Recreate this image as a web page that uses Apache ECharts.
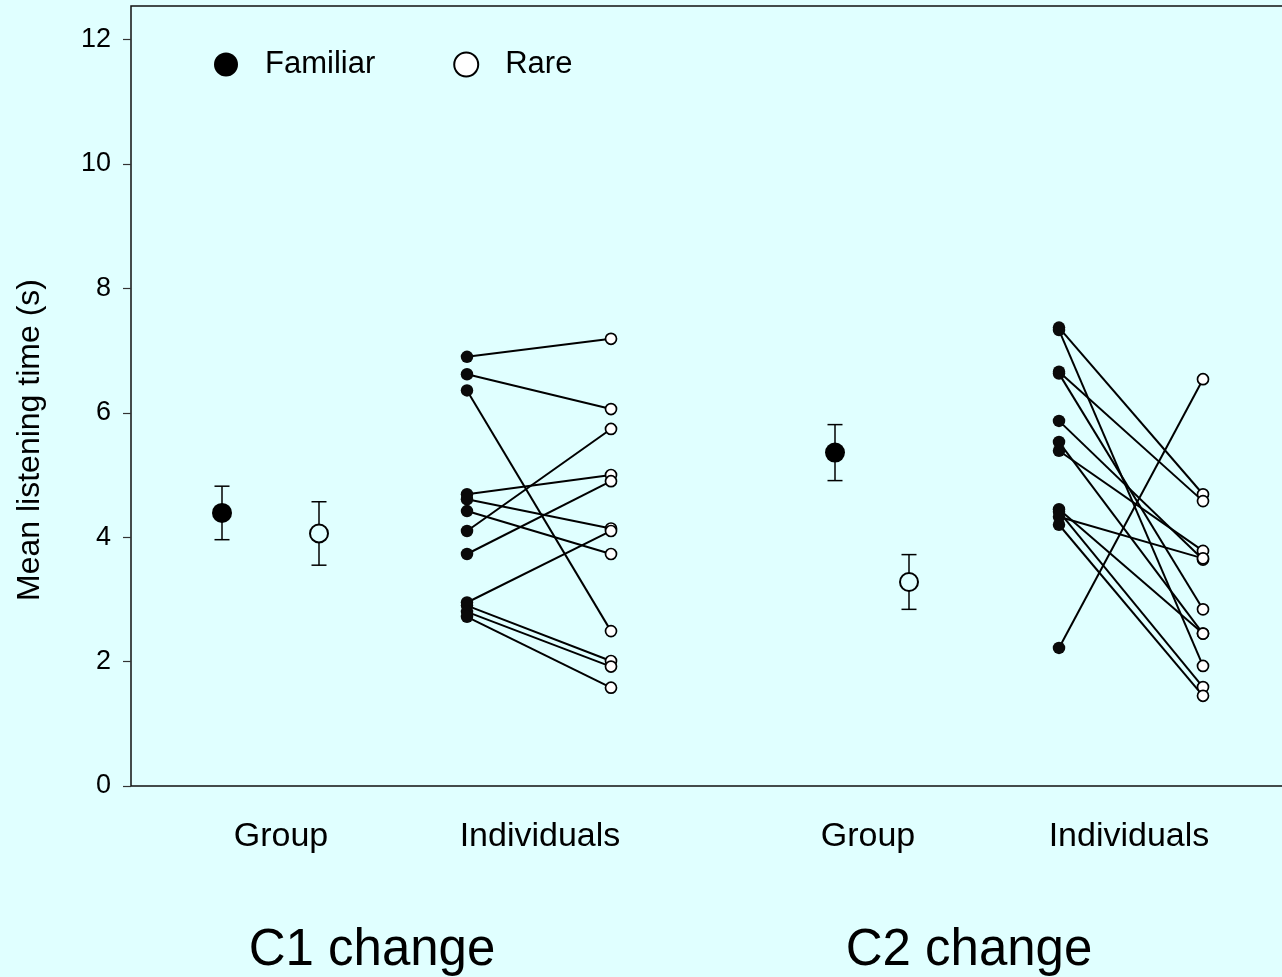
<!DOCTYPE html>
<html>
<head>
<meta charset="utf-8">
<script src="https://cdn.jsdelivr.net/npm/echarts@6/dist/echarts.min.js"></script>
<style>
html,body{margin:0;padding:0;background:#e0ffff;}
#chart{width:1282px;height:977px;}
</style>
</head>
<body>
<div id="chart"></div>
<script>
// ---- data ----
const yTicks = [0, 2, 4, 6, 8, 10, 12];
const categoryLabels = ['Group', 'Individuals', 'Group', 'Individuals'];
const changeLabels = ['C1 change', 'C2 change'];
const seriesNames = ['Familiar', 'Rare'];

const groupFamiliarMean = [4.39, 5.36];
const groupFamiliarErr  = [0.43, 0.45];
const groupRareMean     = [4.06, 3.28];
const groupRareErr      = [0.51, 0.44];

const c1Familiar = [6.90, 6.62, 6.36, 4.69, 4.61, 4.42, 4.10, 3.73, 2.95, 2.90, 2.80, 2.72];
const c1Rare     = [7.19, 6.06, 2.49, 5.00, 4.14, 3.73, 5.74, 4.90, 4.10, 2.01, 1.92, 1.58];
const c2Familiar = [7.37, 7.33, 6.66, 6.63, 5.87, 5.53, 5.39, 4.45, 4.41, 4.33, 4.20, 2.22];
const c2Rare     = [4.69, 1.93, 4.58, 2.84, 3.64, 2.45, 3.78, 2.45, 1.59, 3.66, 1.45, 6.54];

// ---- layout (x positions on a 0..12 layout axis) ----
const POS = {
  groupF: [0.91, 7.04],
  groupR: [1.88, 7.78],
  indF: [3.36, 9.28],
  indR: [4.80, 10.72],
  catLabel: [1.50, 4.09, 7.37, 9.98],
  changeLabel: [2.41, 8.38]
};
const FONT = 'Liberation Sans, Arial, Helvetica, sans-serif';
const BG = '#e0ffff';

const groupF = groupFamiliarMean.map((m, i) => [POS.groupF[i], m]);
const groupR = groupRareMean.map((m, i) => [POS.groupR[i], m]);
const errF = groupFamiliarMean.map((m, i) => [POS.groupF[i], m, groupFamiliarErr[i]]);
const errR = groupRareMean.map((m, i) => [POS.groupR[i], m, groupRareErr[i]]);

const pairs = [];
const indFpts = [], indRpts = [];
[[c1Familiar, c1Rare], [c2Familiar, c2Rare]].forEach(([fam, rare], k) => {
  fam.forEach((f, i) => {
    pairs.push([POS.indF[k], f, POS.indR[k], rare[i]]);
    indFpts.push([POS.indF[k], f]);
    indRpts.push([POS.indR[k], rare[i]]);
  });
});

function errRender(params, api) {
  const x = api.value(0), m = api.value(1), e = api.value(2);
  const t = api.coord([x, m + e]);
  const b = api.coord([x, m - e]);
  const hw = 7.5;
  const st = { stroke: '#000', lineWidth: 1.5 };
  return {
    type: 'group',
    children: [
      { type: 'line', shape: { x1: t[0], y1: t[1], x2: b[0], y2: b[1] }, style: st },
      { type: 'line', shape: { x1: t[0] - hw, y1: t[1], x2: t[0] + hw, y2: t[1] }, style: st },
      { type: 'line', shape: { x1: b[0] - hw, y1: b[1], x2: b[0] + hw, y2: b[1] }, style: st }
    ]
  };
}
function pairRender(params, api) {
  const a = api.coord([api.value(0), api.value(1)]);
  const b = api.coord([api.value(2), api.value(3)]);
  return { type: 'line', shape: { x1: a[0], y1: a[1], x2: b[0], y2: b[1] },
           style: { stroke: '#000', lineWidth: 2 } };
}

const chart = echarts.init(document.getElementById('chart'), null, { renderer: 'canvas' });
chart.setOption({
  backgroundColor: BG,
  animation: false,
  textStyle: { fontFamily: FONT },
  grid: {
    left: 131, top: 6, width: 1200, bottom: 191,
    outerBoundsMode: 'none', containLabel: false,
    show: true, borderColor: '#111', borderWidth: 1.5, backgroundColor: 'transparent'
  },
  legend: {
    data: [
      { name: seriesNames[0], icon: 'circle', itemStyle: { color: '#000', borderWidth: 0 } },
      { name: seriesNames[1], icon: 'circle', itemStyle: { color: '#fff', borderColor: '#000', borderWidth: 2 } }
    ],
    left: 209, top: 44, itemWidth: 24, itemHeight: 24, itemGap: 78,
    textStyle: { fontFamily: FONT, fontSize: 31, color: '#000', padding: [2, 0, 0, 22], lineHeight: 24 },
    selectedMode: false
  },
  xAxis: [
    {
      type: 'value', min: 0, max: 12, position: 'bottom',
      axisLine: { show: false }, axisTick: { show: false }, splitLine: { show: false },
      axisLabel: {
        customValues: POS.catLabel, margin: 34, fontSize: 34, color: '#000', fontFamily: FONT,
        formatter: v => { const i = POS.catLabel.findIndex(p => Math.abs(p - v) < 1e-6); return i >= 0 ? categoryLabels[i] : ''; }
      }
    },
    {
      type: 'value', min: 0, max: 12, position: 'bottom',
      axisLine: { show: false }, axisTick: { show: false }, splitLine: { show: false },
      axisLabel: {
        customValues: POS.changeLabel, margin: 139, fontSize: 51, color: '#000', fontFamily: FONT,
        formatter: v => { const i = POS.changeLabel.findIndex(p => Math.abs(p - v) < 1e-6); return i >= 0 ? changeLabels[i] : ''; }
      }
    }
  ],
  yAxis: {
    type: 'value', min: 0, max: 12.54,
    axisLine: { show: false },
    splitLine: { show: false },
    axisTick: { show: true, length: 8, customValues: yTicks, lineStyle: { color: '#333', width: 1.2 } },
    axisLabel: { customValues: yTicks, margin: 20, fontSize: 27, color: '#000', fontFamily: FONT }
  },
  graphic: [
    {
      type: 'text', x: 30, y: 440, rotation: Math.PI / 2,
      style: { text: 'Mean listening time (s)', fontSize: 32, fontFamily: FONT, fill: '#000',
               align: 'center', verticalAlign: 'middle' }
    }
  ],
  series: [
    { type: 'custom', name: 'pairs', renderItem: pairRender, data: pairs,
      encode: { x: [0, 2], y: [1, 3] }, z: 2, silent: true },
    { type: 'custom', name: 'errF', renderItem: errRender, data: errF,
      encode: { x: 0, y: 1 }, z: 2, silent: true },
    { type: 'custom', name: 'errR', renderItem: errRender, data: errR,
      encode: { x: 0, y: 1 }, z: 2, silent: true },
    { type: 'scatter', name: seriesNames[0], data: groupF, symbol: 'circle', symbolSize: 20,
      itemStyle: { color: '#000', opacity: 1 }, z: 5 },
    { type: 'scatter', name: seriesNames[1], data: groupR, symbol: 'circle', symbolSize: 18,
      itemStyle: { color: BG, borderColor: '#000', borderWidth: 2, opacity: 1 }, z: 5 },
    { type: 'scatter', name: seriesNames[0], data: indFpts, symbol: 'circle', symbolSize: 12.5,
      itemStyle: { color: '#0a0a0a', opacity: 1 }, z: 4 },
    { type: 'scatter', name: seriesNames[1], data: indRpts, symbol: 'circle', symbolSize: 11,
      itemStyle: { color: '#fff', borderColor: '#000', borderWidth: 1.7, opacity: 1 }, z: 4 }
  ]
});
</script>
</body>
</html>
